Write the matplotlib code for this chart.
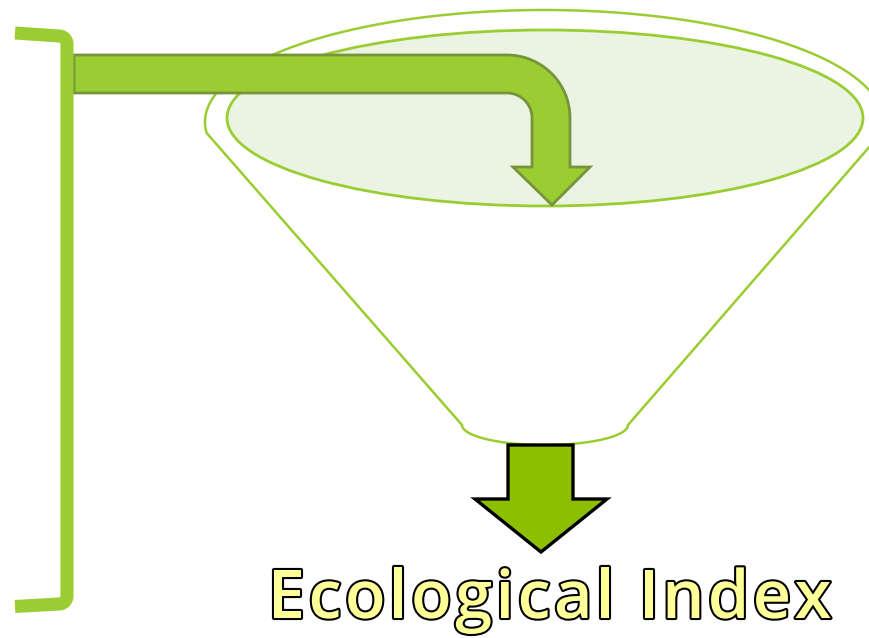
import numpy as np
import matplotlib
matplotlib.use("Agg")
import matplotlib.pyplot as plt
from matplotlib.patches import Polygon, Ellipse
import matplotlib.patheffects as pe

# diagram text
label = "Ecological Index"

# colours
green = "#9ACD32"
arrow_edge = "#77933C"
inner_fill = "#EBF4E2"
down_fill = "#8CBF00"
text_fill = "#FFFF99"

W, H = 869, 638
fig = plt.figure(figsize=(W / 100, H / 100), dpi=100)
ax = fig.add_axes([0, 0, 1, 1])
ax.set_xlim(0, W)
ax.set_ylim(H, 0)
ax.axis("off")


def arc(cx, cy, a, b, t0, t1, n=60):
    t = np.radians(np.linspace(t0, t1, n))
    return np.column_stack([cx + a * np.cos(t), cy + b * np.sin(t)])


# funnel outline: top half of outer ellipse, cone sides, small bottom arc
cx, cy, a, b = 544, 122, 339, 112
t_start = 180 - np.degrees(np.arcsin(11 / b))
top = arc(cx, cy, a, b, t_start, 360 - (t_start - 180), 200)
bottom = arc(545, 425, 83, 20, 0, 180, 60)
funnel = np.vstack([top, [[628, 425]], bottom, [[462, 425]], top[:1]])
ax.add_patch(Polygon(funnel, closed=True, facecolor="white", edgecolor=green, lw=1.8))

# inner ellipse (funnel mouth)
ax.add_patch(Ellipse((545, 118), 636, 176, facecolor=inner_fill, edgecolor=green, lw=2.0))

# bent arrow
ccx, ccy = 507, 118
bent = np.vstack([
    [[74, 55]],
    arc(ccx, ccy, 63, 63, -90, 0, 40),
    [[570, 167], [590, 167], [552, 205], [513, 167], [532, 167]],
    arc(ccx, ccy, 25, 25, 0, -90, 30),
    [[74, 93]],
])
ax.add_patch(Polygon(bent, closed=True, facecolor=green, edgecolor=arrow_edge, lw=2.0, joinstyle="miter"))

# bracket on the left, rounded corners
r = 8
top_corner = arc(67 - r, 36 + r, r, r, -90, 0, 12)
bot_corner = arc(67 - r, 604 - r, r, r, 0, 90, 12)
bracket = np.vstack([[[15, 33]], top_corner, bot_corner, [[15, 606.5]]])
ax.plot(bracket[:, 0], bracket[:, 1], color=green, lw=9.4,
        solid_joinstyle="round", solid_capstyle="butt")

# down arrow
down = [[508, 445], [573, 445], [573, 499], [607, 499], [541, 552], [475, 499], [508, 499]]
ax.add_patch(Polygon(down, closed=True, facecolor=down_fill, edgecolor="black", lw=2.4, joinstyle="miter"))

# label, drawn letter by letter to get the wider tracking of the original
font = dict(fontsize=48, family="Open Sans", fontweight="semibold")
renderer = fig.canvas.get_renderer()


def text_width(s):
    if not s:
        return 0.0
    t = ax.text(0, 0, "|" + s + "|", **font)
    w = t.get_window_extent(renderer).width
    t.remove()
    t = ax.text(0, 0, "||", **font)
    w -= t.get_window_extent(renderer).width
    t.remove()
    return w


left, right = 268, 830
natural = text_width(label)
track = (right - left - natural) / (len(label) - 1)
for i, ch in enumerate(label):
    if ch == " ":
        continue
    x = left + text_width(label[:i]) + i * track
    ax.text(x, 618, ch, ha="left", va="baseline", color=text_fill, **font,
            path_effects=[pe.withStroke(linewidth=3.0, foreground="black")])

fig.savefig("out.png", dpi=100)
